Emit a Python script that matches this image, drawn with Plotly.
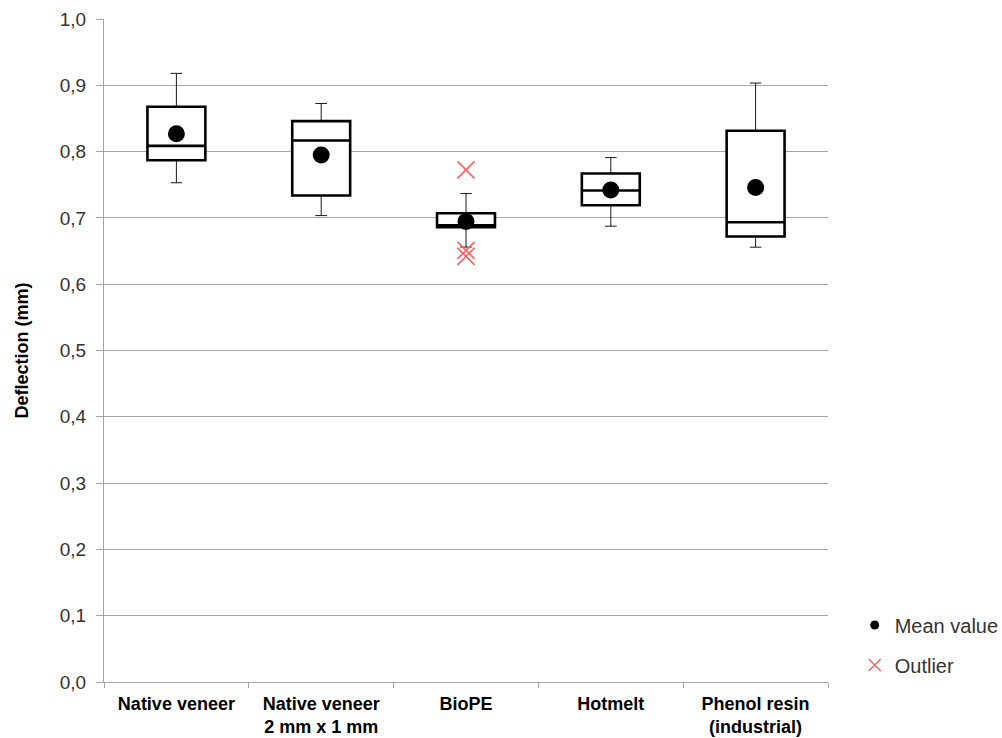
import plotly.graph_objects as go

# Deflection statistics per material (mm)
categories = ["Native veneer", "Native veneer<br>2 mm x 1 mm", "BioPE", "Hotmelt",
              "Phenol resin<br>(industrial)"]
whisker_low = [0.753, 0.7035, 0.656, 0.6875, 0.6558]
q1_values = [0.787, 0.7337, 0.686, 0.719, 0.672]
median_values = [0.8087, 0.8167, 0.689, 0.7413, 0.6935]
q3_values = [0.8676, 0.846, 0.707, 0.767, 0.8314]
whisker_high = [0.918, 0.8726, 0.7367, 0.791, 0.9034]
mean_values = [0.827, 0.7947, 0.6945, 0.742, 0.7458]

outlier_categories = ["BioPE", "BioPE", "BioPE"]
outlier_values = [0.7725, 0.651, 0.642]

y_ticks = [0.0, 0.1, 0.2, 0.3, 0.4, 0.5, 0.6, 0.7, 0.8, 0.9, 1.0]

FONT = "Liberation Sans, Arial, sans-serif"
GRID = "#a6a6a6"

fig = go.Figure()

# thin outline carrying the whiskers and caps
fig.add_trace(go.Box(
    x=categories, q1=q1_values, median=median_values, q3=q3_values,
    lowerfence=whisker_low, upperfence=whisker_high,
    width=0.4, whiskerwidth=0.2, boxpoints=False,
    line=dict(color="#1a1a1a", width=1), fillcolor="white",
    showlegend=False, hoverinfo="skip",
))
# heavy box and median drawn over it
fig.add_trace(go.Box(
    x=categories, q1=q1_values, median=median_values, q3=q3_values,
    lowerfence=q1_values, upperfence=q3_values,
    width=0.4, whiskerwidth=0, boxpoints=False,
    line=dict(color="black", width=2.6), fillcolor="white",
    showlegend=False, hoverinfo="skip",
))
fig.add_trace(go.Scatter(
    x=categories, y=mean_values, mode="markers",
    marker=dict(symbol="circle", size=17, color="black"),
    showlegend=False, hoverinfo="skip",
))
fig.add_trace(go.Scatter(
    x=outlier_categories, y=outlier_values, mode="markers",
    marker=dict(symbol="x-thin", size=17, line=dict(color="#ff5f5f", width=1.6)),
    showlegend=False, hoverinfo="skip",
))

# legend entries
fig.add_trace(go.Scatter(
    x=[None], y=[None], mode="markers", name="Mean value",
    marker=dict(symbol="circle", size=9, color="black"), legend="legend",
))
fig.add_trace(go.Scatter(
    x=[None], y=[None], mode="markers", name="Outlier",
    marker=dict(symbol="x-thin", size=12, line=dict(color="#ff5f5f", width=1.4)),
    legend="legend2",
))

legend_style = dict(font=dict(family=FONT, size=20, color="#333333"),
                    bgcolor="rgba(0,0,0,0)", xanchor="left", yanchor="middle",
                    xref="container", yref="container", itemwidth=30)

fig.update_layout(
    width=1002, height=738,
    margin=dict(l=104, r=174, t=19, b=56),
    paper_bgcolor="white", plot_bgcolor="white",
    separators=", ",
    boxmode="overlay",
    font=dict(family=FONT, color="#333333"),
    legend=dict(x=0.853, y=0.1531, **legend_style),
    legend2=dict(x=0.853, y=0.0989, **legend_style),
    xaxis=dict(
        type="category", tickson="boundaries", ticks="outside", ticklen=5,
        tickcolor=GRID, showline=True, linecolor=GRID, linewidth=1,
        showgrid=False, range=[-0.5, 4.5], ticklabelstandoff=5, automargin=False,
        tickfont=dict(family=FONT, size=18, color="black", weight="bold"),
    ),
    yaxis=dict(
        range=[0, 1.0], tickvals=y_ticks, tickformat=".1f",
        ticks="outside", ticklen=7, tickcolor=GRID, ticklabelstandoff=6,
        showline=True, linecolor=GRID, linewidth=1, automargin=False,
        showgrid=True, gridcolor=GRID, gridwidth=1, zeroline=False,
        tickfont=dict(family=FONT, size=19, color="#333333"),
        title=dict(text="Deflection (mm)", standoff=26,
                   font=dict(family=FONT, size=18, color="black", weight="bold")),
    ),
)

fig.write_html("out.html")
